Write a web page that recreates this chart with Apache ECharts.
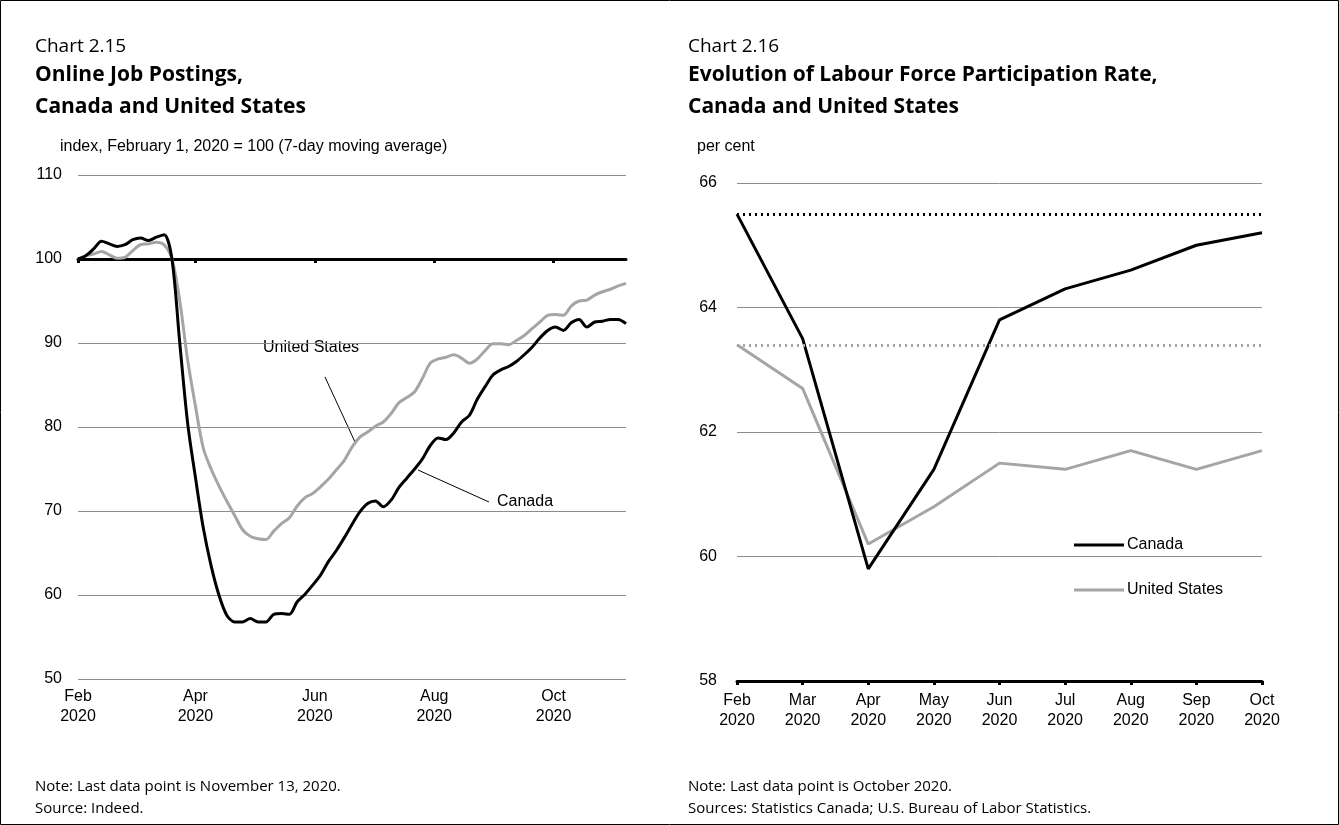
<!DOCTYPE html>
<html>
<head>
<meta charset="utf-8">
<script src="https://cdn.jsdelivr.net/npm/echarts@6/dist/echarts.min.js"></script>
<style>
  html, body { margin: 0; padding: 0; background: #fff; }
  #main { width: 1339px; height: 825px; }
</style>
</head>
<body>
<div id="main"></div>
<script>
// Chart 2.15 - online job postings, index Feb 1 2020 = 100 (7-day moving average)
var postingDates = [
  '2020-02-01','2020-02-05','2020-02-09','2020-02-13','2020-02-17','2020-02-21','2020-02-25','2020-02-29',
  '2020-03-04','2020-03-08','2020-03-12','2020-03-16','2020-03-20','2020-03-24','2020-03-28','2020-04-01',
  '2020-04-05','2020-04-09','2020-04-13','2020-04-17','2020-04-21','2020-04-25','2020-04-29','2020-05-03',
  '2020-05-07','2020-05-11','2020-05-15','2020-05-19','2020-05-23','2020-05-27','2020-05-31','2020-06-04',
  '2020-06-08','2020-06-12','2020-06-16','2020-06-20','2020-06-24','2020-06-28','2020-07-02','2020-07-06',
  '2020-07-10','2020-07-14','2020-07-18','2020-07-22','2020-07-26','2020-07-30','2020-08-03','2020-08-07',
  '2020-08-11','2020-08-15','2020-08-19','2020-08-23','2020-08-27','2020-08-31','2020-09-04','2020-09-08',
  '2020-09-12','2020-09-16','2020-09-20','2020-09-24','2020-09-28','2020-10-02','2020-10-06','2020-10-10',
  '2020-10-14','2020-10-18','2020-10-22','2020-10-26','2020-10-30','2020-11-03','2020-11-07'
];
var postingsCanada = [
  100.0, 100.4, 101.2, 102.1, 101.8, 101.5, 101.7, 102.3,
  102.5, 102.2, 102.6, 102.9, 100.0, 90.0, 80.5, 74.0,
  68.0, 63.5, 60.0, 57.6, 56.8, 56.8, 57.2, 56.8,
  56.8, 57.7, 57.8, 57.7, 59.2, 60.1, 61.2, 62.4,
  64.0, 65.3, 66.8, 68.4, 69.9, 70.9, 71.2, 70.5,
  71.3, 72.8, 73.9, 75.0, 76.2, 77.8, 78.7, 78.5,
  79.3, 80.6, 81.4, 83.3, 84.8, 86.2, 86.8, 87.2,
  87.8, 88.6, 89.5, 90.6, 91.5, 91.9, 91.5, 92.4,
  92.8, 91.9, 92.5, 92.6, 92.8, 92.8, 92.3
];
var postingsUS = [
  100.0, 100.4, 100.6, 100.9, 100.5, 100.1, 100.2, 101.0,
  101.7, 101.8, 102.0, 101.7, 100.0, 95.0, 88.0, 82.5,
  77.5, 75.0, 73.0, 71.2, 69.5, 67.8, 67.0, 66.7,
  66.6, 67.6, 68.5, 69.2, 70.6, 71.6, 72.1, 72.9,
  73.8, 74.9, 76.0, 77.6, 78.8, 79.4, 80.1, 80.6,
  81.6, 82.9, 83.5, 84.2, 85.8, 87.6, 88.1, 88.3,
  88.6, 88.2, 87.6, 88.1, 89.1, 89.9, 89.9, 89.8,
  90.3, 90.9, 91.7, 92.5, 93.3, 93.4, 93.3, 94.4,
  95.0, 95.1, 95.7, 96.1, 96.4, 96.8, 97.1
];
var postingTickDates = ['2020-02-01', '2020-04-01', '2020-06-01', '2020-08-01', '2020-10-01'];
var postingTickLabels = ['Feb\n2020', 'Apr\n2020', 'Jun\n2020', 'Aug\n2020', 'Oct\n2020'];

// Chart 2.16 - labour force participation rate, per cent
var lfprMonths = ['Feb\n2020', 'Mar\n2020', 'Apr\n2020', 'May\n2020', 'Jun\n2020', 'Jul\n2020', 'Aug\n2020', 'Sep\n2020', 'Oct\n2020'];
var lfprCanada = [65.5, 63.5, 59.8, 61.4, 63.8, 64.3, 64.6, 65.0, 65.2];
var lfprUS = [63.4, 62.7, 60.2, 60.8, 61.5, 61.4, 61.7, 61.4, 61.7];

var AXIS_FONT = 'Liberation Sans, Arial, sans-serif';
var TITLE_FONT = 'Open Sans, Noto Sans, sans-serif';
var GREY = '#a5a5a5';

// days since the first posting date, used as the x value
function dayNum(s) {
  var p = s.split('-');
  var b = postingDates[0].split('-');
  return (Date.UTC(+p[0], +p[1] - 1, +p[2]) - Date.UTC(+b[0], +b[1] - 1, +b[2])) / 86400000;
}
var tickDays = postingTickDates.map(dayNum);
var lastDay = dayNum(postingDates[postingDates.length - 1]);

function pairs(vals) {
  return vals.map(function (v, i) { return [dayNum(postingDates[i]), v]; });
}

function tickLabel(v) {
  var i = tickDays.indexOf(v);
  return i >= 0 ? postingTickLabels[i] : '';
}

var chartDom = document.getElementById('main');
var myChart = echarts.init(chartDom);
var option;

var axisText = { color: '#000', fontSize: 16, fontFamily: AXIS_FONT };

option = {
  animation: false,
  backgroundColor: '#fff',
  grid: [
    { left: 78, right: 713, top: 175, height: 504 },
    { left: 737, right: 77, top: 183, height: 498 },
    // upper band 110..100 of chart 2.15, its bottom edge carries the black line at 100
    { left: 78, right: 713, top: 175, height: 84 }
  ],
  xAxis: [
    { // labels for chart 2.15
      type: 'value', gridIndex: 0, min: 0, max: lastDay,
      splitLine: { show: false }, axisLine: { show: false }, axisTick: { show: false },
      axisLabel: Object.assign({ customValues: tickDays, formatter: tickLabel, margin: 8, lineHeight: 20 }, axisText)
    },
    {
      type: 'category', gridIndex: 1, data: lfprMonths, boundaryGap: false,
      axisLine: { show: true, lineStyle: { color: '#000', width: 3 } },
      axisTick: { show: true, length: 4, lineStyle: { color: '#000', width: 3 } },
      axisLabel: Object.assign({ margin: 10, lineHeight: 20 }, axisText)
    },
    { // black line at 100 for chart 2.15
      type: 'value', gridIndex: 2, min: 0, max: lastDay,
      splitLine: { show: false },
      axisLine: { show: true, onZero: false, lineStyle: { color: '#000', width: 3 } },
      axisTick: { show: true, customValues: tickDays, length: 4, lineStyle: { color: '#000', width: 3 } },
      axisLabel: { show: false }
    }
  ],
  yAxis: [
    {
      type: 'value', gridIndex: 0, min: 50, max: 110, interval: 10,
      axisLine: { show: false }, axisTick: { show: false },
      splitLine: { lineStyle: { color: '#8c8c8c', width: 1 } },
      axisLabel: Object.assign({ margin: 16 }, axisText)
    },
    {
      type: 'value', gridIndex: 1, min: 58, max: 66, interval: 2,
      axisLine: { show: false }, axisTick: { show: false },
      splitLine: { lineStyle: { color: '#8c8c8c', width: 1 } },
      axisLabel: Object.assign({ margin: 20 }, axisText)
    },
    {
      type: 'value', gridIndex: 2, min: 100, max: 110, show: false
    }
  ],
  legend: {
    data: ['Canada', 'United States'],
    orient: 'vertical',
    left: 1069, top: 531,
    icon: 'rect', itemWidth: 50, itemHeight: 3, itemGap: 27,
    textStyle: { color: '#000', fontSize: 16, fontFamily: AXIS_FONT, lineHeight: 18, padding: [0, 0, 0, -2] }
  },
  series: [
    {
      name: 'US postings', type: 'line', xAxisIndex: 0, yAxisIndex: 0,
      data: pairs(postingsUS), showSymbol: false, smooth: 0.3,
      lineStyle: { color: GREY, width: 3 }, itemStyle: { color: GREY }
    },
    {
      name: 'Canada postings', type: 'line', xAxisIndex: 0, yAxisIndex: 0,
      data: pairs(postingsCanada), showSymbol: false, smooth: 0.3,
      lineStyle: { color: '#000', width: 3 }, itemStyle: { color: '#000' }
    },
    {
      name: 'United States', type: 'line', xAxisIndex: 1, yAxisIndex: 1,
      data: lfprUS, showSymbol: false,
      lineStyle: { color: GREY, width: 3 }, itemStyle: { color: GREY },
      markLine: {
        silent: true, symbol: 'none', label: { show: false },
        lineStyle: { color: GREY, width: 3, type: [2, 4] },
        data: [{ yAxis: lfprUS[0] }]
      }
    },
    {
      name: 'Canada', type: 'line', xAxisIndex: 1, yAxisIndex: 1,
      data: lfprCanada, showSymbol: false,
      lineStyle: { color: '#000', width: 3 }, itemStyle: { color: '#000' },
      markLine: {
        silent: true, symbol: 'none', label: { show: false },
        lineStyle: { color: '#000', width: 3, type: [2, 4] },
        data: [{ yAxis: lfprCanada[0] }]
      }
    },
    { // holds the band axes of grid 2
      name: 'base', type: 'line', xAxisIndex: 2, yAxisIndex: 2, data: [], silent: true
    }
  ],
  graphic: [
    { type: 'rect', shape: { x: 0.5, y: 0.5, width: 1338, height: 824 }, style: { fill: null, stroke: '#000', lineWidth: 1 } },
    // chart 2.15 headings
    { type: 'text', left: 35, top: 37, style: { text: 'Chart 2.15', fontSize: 19, fontFamily: TITLE_FONT, fill: '#000' } },
    { type: 'text', left: 35, top: 65, style: { text: 'Online Job Postings,', fontSize: 21, fontWeight: 'bold', fontFamily: TITLE_FONT, fill: '#000' } },
    { type: 'text', left: 35, top: 97, style: { text: 'Canada and United States', fontSize: 21, fontWeight: 'bold', fontFamily: TITLE_FONT, fill: '#000' } },
    { type: 'text', left: 60, top: 139, style: { text: 'index, February 1, 2020 = 100 (7-day moving average)', fontSize: 16, fontFamily: AXIS_FONT, fill: '#000' } },
    { type: 'text', left: 263, top: 340, style: { text: 'United States', fontSize: 16, fontFamily: AXIS_FONT, fill: '#000' } },
    { type: 'line', shape: { x1: 325, y1: 377, x2: 355, y2: 442 }, style: { stroke: '#000', lineWidth: 1 } },
    { type: 'text', left: 497, top: 494, style: { text: 'Canada', fontSize: 16, fontFamily: AXIS_FONT, fill: '#000' } },
    { type: 'line', shape: { x1: 418, y1: 470, x2: 489, y2: 502 }, style: { stroke: '#000', lineWidth: 1 } },
    { type: 'text', left: 35, top: 779, style: { text: 'Note: Last data point is November 13, 2020.', fontSize: 15, fontFamily: TITLE_FONT, fill: '#000' } },
    { type: 'text', left: 35, top: 801, style: { text: 'Source: Indeed.', fontSize: 15, fontFamily: TITLE_FONT, fill: '#000' } },
    // chart 2.16 headings
    { type: 'text', left: 688, top: 37, style: { text: 'Chart 2.16', fontSize: 19, fontFamily: TITLE_FONT, fill: '#000' } },
    { type: 'text', left: 688, top: 65, style: { text: 'Evolution of Labour Force Participation Rate,', fontSize: 21, fontWeight: 'bold', fontFamily: TITLE_FONT, fill: '#000' } },
    { type: 'text', left: 688, top: 97, style: { text: 'Canada and United States', fontSize: 21, fontWeight: 'bold', fontFamily: TITLE_FONT, fill: '#000' } },
    { type: 'text', left: 697, top: 139, style: { text: 'per cent', fontSize: 16, fontFamily: AXIS_FONT, fill: '#000' } },
    { type: 'text', left: 688, top: 779, style: { text: 'Note: Last data point is October 2020.', fontSize: 15, fontFamily: TITLE_FONT, fill: '#000' } },
    { type: 'text', left: 688, top: 801, style: { text: 'Sources: Statistics Canada; U.S. Bureau of Labor Statistics.', fontSize: 15, fontFamily: TITLE_FONT, fill: '#000' } }
  ]
};

option && myChart.setOption(option);
</script>
</body>
</html>
